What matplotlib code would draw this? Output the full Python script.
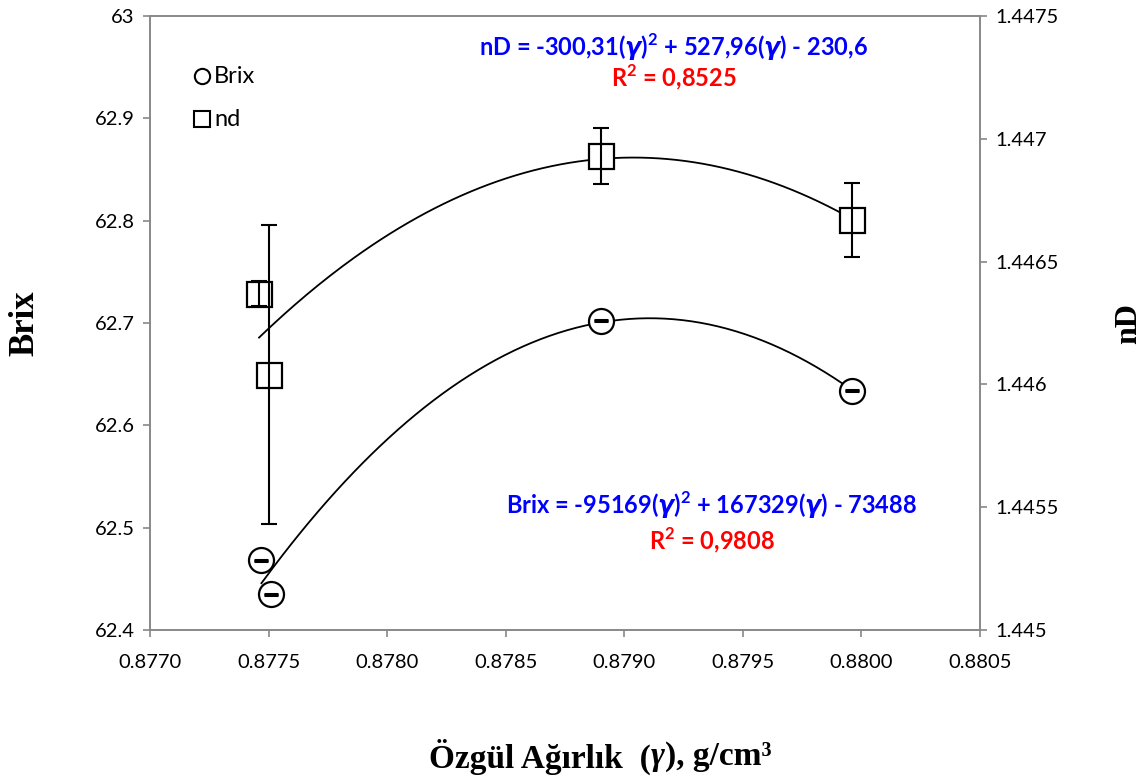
import numpy as np
import matplotlib.pyplot as plt
from matplotlib.ticker import FuncFormatter

# data
gamma_brix = [0.87747, 0.87751, 0.87890, 0.87996]
brix = [62.468, 62.435, 62.702, 62.634]
brix_err = [0.0005, 0.0005, 0.0005, 0.0005]

gamma_nd = [0.87746, 0.87750, 0.87890, 0.87996]
nd = [1.44637, 1.44604, 1.44693, 1.44667]
nd_err = [0.00005, 0.00061, 0.000114, 0.00015]

eq_nd = "nD = -300,31($\\mathit{γ}$)$^2$ + 527,96($\\mathit{γ}$) - 230,6"
r2_nd = "R$^2$ = 0,8525"
eq_brix = "Brix = -95169($\\mathit{γ}$)$^2$ + 167329($\\mathit{γ}$) - 73488"
r2_brix = "R$^2$ = 0,9808"

plt.rcParams['font.family'] = ['Lato', 'DejaVu Sans']
plt.rcParams['mathtext.fontset'] = 'custom'
plt.rcParams['mathtext.rm'] = 'Lato:bold'
plt.rcParams['mathtext.it'] = 'DejaVu Sans:italic:bold'

fig = plt.figure(figsize=(11.44, 7.76), dpi=100)
ax = fig.add_axes([0.1311, 0.1881, 0.7255, 0.7913])
ax2 = ax.twinx()

# Brix on left axis
ax.errorbar(gamma_brix, brix, yerr=brix_err, fmt='none', ecolor='black',
            elinewidth=1.5, capsize=5, capthick=2.2, zorder=4)
ax.plot(gamma_brix, brix, 'o', ms=18, mfc='white', mec='black', mew=1.6, zorder=3)
c = np.polyfit(gamma_brix, brix, 2)
xs = np.linspace(min(gamma_brix), max(gamma_brix), 200)
ax.plot(xs, np.polyval(c, xs), color='black', lw=1.3, zorder=2)

# nD on right axis
ax2.plot(gamma_nd, nd, 's', ms=18, mfc='white', mec='black', mew=1.6, zorder=3)
ax2.errorbar(gamma_nd, nd, yerr=nd_err, fmt='none', ecolor='black',
             elinewidth=1.5, capsize=6, capthick=1.5, zorder=4)
c2 = np.polyfit(gamma_nd, nd, 2)
xs2 = np.linspace(min(gamma_nd), max(gamma_nd), 200)
ax2.plot(xs2, np.polyval(c2, xs2), color='black', lw=1.3, zorder=2)

ax.set_xlim(0.8770, 0.8805)
ax.set_ylim(62.4, 63.0)
ax2.set_ylim(1.445, 1.4475)
ax.set_xticks(np.arange(0.8770, 0.88051, 0.0005))
ax.set_yticks(np.arange(62.4, 63.01, 0.1))
ax2.set_yticks([1.445, 1.4455, 1.446, 1.4465, 1.447, 1.4475])
ax.xaxis.set_major_formatter(FuncFormatter(lambda v, p: f"{v:.4f}"))
ax.yaxis.set_major_formatter(FuncFormatter(lambda v, p: f"{v:g}" if abs(v - 63) > 1e-9 else "63"))
ax2.yaxis.set_major_formatter(FuncFormatter(lambda v, p: f"{v:.5f}".rstrip('0')))

for a in (ax, ax2):
    for s in a.spines.values():
        s.set_color('#888888')
        s.set_linewidth(1.2)
    a.tick_params(direction='out', length=5, width=1.2, color='#888888', labelsize=14.5, pad=6)
ax.tick_params(axis='x', pad=12)

ax.set_ylabel("Brix", fontsize=25, fontweight='bold', family='Liberation Serif', labelpad=38)
ax2.set_ylabel("nD", fontsize=23, fontweight='bold', family='Liberation Serif', labelpad=40)
fig.text(0.569, 0.025, "Özgül Ağırlık  (", fontsize=24, fontweight='bold',
         family='Liberation Serif', ha='right', va='center')
fig.text(0.569, 0.025, "γ", fontsize=24, fontweight='bold', style='italic',
         family='Liberation Serif', ha='left', va='center')
fig.text(0.5812, 0.025, "), g/cm³", fontsize=24, fontweight='bold',
         family='Liberation Serif', ha='left', va='center')

# legend
ax.plot([0.87722], [62.941], 'o', ms=11, mfc='white', mec='black', mew=1.5, clip_on=False)
ax.text(0.87727, 62.941, "Brix", fontsize=17, va='center')
ax.plot([0.87722], [62.899], 's', ms=12, mfc='white', mec='black', mew=1.5, clip_on=False)
ax.text(0.87727, 62.899, "nd", fontsize=17, va='center')

# equations
ax.text(0.631, 0.9495, eq_nd, transform=ax.transAxes, color='#0000ff', fontsize=17,
        fontweight='bold', ha='center', va='center')
ax.text(0.631, 0.9007, r2_nd, transform=ax.transAxes, color='#ff0000', fontsize=17,
        fontweight='bold', ha='center', va='center')
ax.text(0.677, 0.2036, eq_brix, transform=ax.transAxes, color='#0000ff', fontsize=17,
        fontweight='bold', ha='center', va='center')
ax.text(0.677, 0.1466, r2_brix, transform=ax.transAxes, color='#ff0000', fontsize=17,
        fontweight='bold', ha='center', va='center')

fig.savefig("out.png", dpi=100)
